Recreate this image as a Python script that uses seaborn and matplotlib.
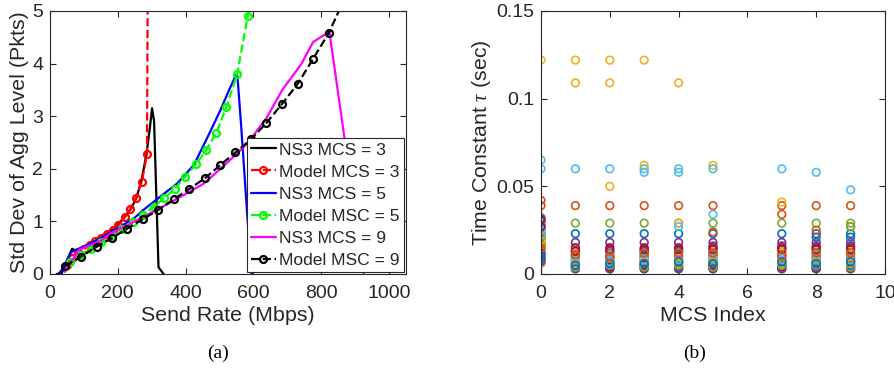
import numpy as np
import pandas as pd
import matplotlib
matplotlib.use("Agg")
import matplotlib.pyplot as plt
import seaborn as sns

# ---------------- data: panel (a) ----------------
ns3_mcs3_x = [20, 35, 65, 78, 100, 130, 160, 190, 220, 240, 255, 270, 285, 295, 301, 307, 320, 335]
ns3_mcs3_y = [0, 0.02, 0.48, 0.44, 0.52, 0.62, 0.73, 0.87, 1.08, 1.25, 1.45, 1.78, 2.3, 2.8, 3.15, 2.9, 0.13, 0]

model_mcs3_x = [49, 66, 83, 100, 117, 134, 151, 168, 185, 202, 220, 237, 253, 271, 286, 289]
model_mcs3_y = [0.18, 0.3, 0.39, 0.47, 0.55, 0.62, 0.69, 0.76, 0.84, 0.93, 1.08, 1.24, 1.44, 1.75, 2.28, 6.5]

ns3_mcs5_x = [25, 40, 60, 72, 100, 150, 200, 250, 276, 325, 375, 424, 473, 503, 525, 548, 553, 564, 582, 595]
ns3_mcs5_y = [0, 0.12, 0.4, 0.45, 0.52, 0.68, 0.87, 1.07, 1.22, 1.47, 1.72, 2.07, 2.71, 3.12, 3.45, 3.78, 3.75, 2.8, 1.1, 0]

model_mcs5_x = [58, 89, 120, 151, 182, 213, 244, 275, 306, 337, 368, 399, 431, 461, 491, 520, 552, 583, 612]
model_mcs5_y = [0.22, 0.36, 0.48, 0.6, 0.72, 0.85, 0.98, 1.12, 1.28, 1.44, 1.62, 1.85, 2.09, 2.36, 2.69, 3.17, 3.8, 4.9, 7.0]

ns3_mcs9_x = [44, 84, 100, 150, 178, 250, 315, 380, 454, 520, 582, 640, 685, 740, 776, 824, 868, 925]
ns3_mcs9_y = [0.04, 0.45, 0.5, 0.63, 0.77, 1.0, 1.22, 1.45, 1.72, 2.1, 2.48, 2.98, 3.5, 3.98, 4.41, 4.61, 2.61, 0]

model_mcs9_x = [45, 91, 138, 182, 227, 273, 320, 365, 411, 457, 502, 547, 593, 638, 684, 730, 776, 822, 867]
model_mcs9_y = [0.15, 0.33, 0.52, 0.68, 0.86, 1.04, 1.22, 1.42, 1.62, 1.82, 2.07, 2.31, 2.56, 2.87, 3.23, 3.61, 4.09, 4.58, 5.21]

legend_labels = ["NS3 MCS = 3", "Model MCS = 3", "NS3 MCS = 5",
                 "Model MSC = 5", "NS3 MCS = 9", "Model MSC = 9"]

# ---------------- data: panel (b) ----------------
mcs_index = [0, 1, 2, 3, 4, 5, 7, 8, 9]
tau_series = [
    [0.023, 0.023, 0.023, 0.023, 0.023, 0.023, 0.023, 0.023, 0.023],
    [0.042, 0.039, 0.039, 0.039, 0.039, 0.039, 0.039, 0.039, 0.039],
    [0.122, 0.122, 0.122, 0.122, 0.109, 0.062, 0.041, 0.012, 0.013],
    [0.030, 0.018, 0.018, 0.018, 0.018, 0.018, 0.018, 0.018, 0.018],
    [0.028, 0.029, 0.029, 0.029, 0.029, 0.029, 0.029, 0.029, 0.029],
    [0.065, 0.060, 0.060, 0.060, 0.060, 0.060, 0.060, 0.058, 0.048],
    [0.020, 0.015, 0.015, 0.015, 0.015, 0.015, 0.015, 0.015, 0.015],
    [0.032, 0.011, 0.010, 0.011, 0.011, 0.011, 0.011, 0.021, 0.021],
    [0.039, 0.012, 0.012, 0.013, 0.013, 0.024, 0.034, 0.025, 0.027],
    [0.016, 0.109, 0.109, 0.062, 0.029, 0.013, 0.013, 0.013, 0.012],
    [0.026, 0.013, 0.013, 0.013, 0.013, 0.016, 0.016, 0.016, 0.016],
    [0.014, 0.008, 0.009, 0.009, 0.008, 0.009, 0.009, 0.008, 0.027],
    [0.060, 0.010, 0.011, 0.058, 0.058, 0.034, 0.010, 0.011, 0.010],
    [0.012, 0.006, 0.007, 0.006, 0.006, 0.006, 0.007, 0.006, 0.006],
    [0.008, 0.007, 0.006, 0.007, 0.007, 0.007, 0.006, 0.007, 0.007],
    [0.024, 0.005, 0.005, 0.005, 0.005, 0.005, 0.005, 0.005, 0.005],
    [0.006, 0.012, 0.050, 0.010, 0.009, 0.010, 0.012, 0.010, 0.011],
    [0.010, 0.004, 0.004, 0.004, 0.003, 0.004, 0.003, 0.004, 0.003],
    [0.018, 0.009, 0.008, 0.008, 0.010, 0.008, 0.008, 0.009, 0.008],
    [0.022, 0.007, 0.008, 0.009, 0.027, 0.012, 0.009, 0.012, 0.009],
    [0.031, 0.005, 0.004, 0.005, 0.004, 0.005, 0.004, 0.003, 0.004],
    [0.009, 0.003, 0.003, 0.003, 0.004, 0.003, 0.005, 0.004, 0.005],
    [0.017, 0.010, 0.009, 0.010, 0.010, 0.011, 0.011, 0.009, 0.009],
    [0.019, 0.006, 0.006, 0.007, 0.006, 0.007, 0.006, 0.007, 0.006],
    [0.007, 0.003, 0.003, 0.003, 0.003, 0.003, 0.003, 0.003, 0.003],
    [0.021, 0.004, 0.005, 0.004, 0.005, 0.004, 0.005, 0.005, 0.004],
    [0.025, 0.008, 0.007, 0.008, 0.008, 0.009, 0.008, 0.008, 0.008],
    [0.027, 0.013, 0.014, 0.014, 0.014, 0.014, 0.014, 0.014, 0.014],
    [0.011, 0.005, 0.006, 0.006, 0.007, 0.006, 0.007, 0.006, 0.007],
    [0.015, 0.011, 0.010, 0.012, 0.012, 0.012, 0.010, 0.012, 0.012],
]

matlab_colors = ["#0072BD", "#D95319", "#EDB120", "#7E2F8E", "#77AC30", "#4DBEEE", "#A2142F"]

# ---------------- styling ----------------
sns.set_theme(style="ticks")
plt.rcParams["font.family"] = ["Liberation Sans", "DejaVu Sans"]
plt.rcParams["mathtext.fontset"] = "custom"
plt.rcParams["mathtext.it"] = "Liberation Serif:italic"
axis_gray = "#262626"
tick_fs = 14
label_fs = 15.4
legend_fs = 12.6

fig = plt.figure(figsize=(8.95, 3.76), dpi=100)
ax1 = fig.add_axes([50 / 895, 1 - 274 / 376, 356 / 895, 263 / 376])
ax2 = fig.add_axes([541 / 895, 1 - 274 / 376, 344 / 895, 263 / 376])

# ---------------- panel (a) ----------------
series_a = [
    (ns3_mcs3_x, ns3_mcs3_y, "black", "-", None),
    (model_mcs3_x, model_mcs3_y, "#FF0000", "--", "o"),
    (ns3_mcs5_x, ns3_mcs5_y, "#0000FF", "-", None),
    (model_mcs5_x, model_mcs5_y, "#00FF00", "--", "o"),
    (ns3_mcs9_x, ns3_mcs9_y, "#FF00FF", "-", None),
    (model_mcs9_x, model_mcs9_y, "black", "--", "o"),
]
for (xs, ys, c, ls, mk), lab in zip(series_a, legend_labels):
    df = pd.DataFrame({"x": xs, "y": ys})
    kw = dict(color=c, linestyle=ls, linewidth=1.6, label=lab)
    if mk:
        kw.update(marker="o", markersize=5, markerfacecolor="none",
                  markeredgewidth=1.6, markeredgecolor=c, dashes=(4, 2.5))
    sns.lineplot(data=df, x="x", y="y", ax=ax1, sort=False, estimator=None, **kw)

ax1.set_xlim(0, 1050)
ax1.set_ylim(0, 5)
ax1.set_xticks([0, 200, 400, 600, 800, 1000])
ax1.set_yticks([0, 1, 2, 3, 4, 5])
ax1.set_xlabel("Send Rate (Mbps)", fontsize=label_fs, color=axis_gray, labelpad=3)
ax1.set_ylabel("Std Dev of Agg Level (Pkts)", fontsize=label_fs, color=axis_gray, labelpad=2)
leg = ax1.legend(loc="lower right", fontsize=legend_fs, frameon=True, fancybox=False,
                 handlelength=1.4, handletextpad=0.2, labelspacing=0.39,
                 borderpad=0.25, borderaxespad=0.1, framealpha=1)
leg.get_frame().set_edgecolor(axis_gray)
leg.get_frame().set_linewidth(0.8)

# ---------------- panel (b) ----------------
rows = []
for i, s in enumerate(tau_series):
    for m, t in zip(mcs_index, s):
        rows.append({"mcs": m, "tau": t, "series": i})
df_b = pd.DataFrame(rows)
pal = [matlab_colors[i % 7] for i in range(len(tau_series))]
sns.scatterplot(data=df_b, x="mcs", y="tau", hue="series", palette=pal, ax=ax2,
                marker="o", s=30, linewidth=1.2, legend=False)
for coll in ax2.collections:
    fc = coll.get_facecolors()
    coll.set_edgecolors(fc)
    coll.set_facecolors("none")

ax2.set_xlim(0, 10)
ax2.set_ylim(0, 0.15)
ax2.set_xticks([0, 2, 4, 6, 8, 10])
ax2.set_yticks([0, 0.05, 0.1, 0.15])
ax2.set_yticklabels(["0", "0.05", "0.1", "0.15"])
ax2.set_xlabel("MCS Index", fontsize=label_fs, color=axis_gray, labelpad=3)
ax2.set_ylabel(r"Time Constant $\tau$ (sec)", fontsize=label_fs, color=axis_gray, labelpad=2)

for ax in (ax1, ax2):
    for sp in ax.spines.values():
        sp.set_visible(True)
        sp.set_color(axis_gray)
        sp.set_linewidth(0.8)
    ax.tick_params(axis="both", direction="in", length=4, width=0.8, top=True, right=True,
                   labelsize=tick_fs, colors=axis_gray)
    ax.tick_params(axis="x", pad=8)
    ax.tick_params(axis="y", pad=5)

fig.text(218 / 895, 1 - 353 / 376, "(a)", ha="center", va="center",
         fontsize=14, family=["Liberation Serif", "DejaVu Serif"], color="black")
fig.text(695 / 895, 1 - 353 / 376, "(b)", ha="center", va="center",
         fontsize=14, family=["Liberation Serif", "DejaVu Serif"], color="black")

fig.savefig("out.png", dpi=100)
